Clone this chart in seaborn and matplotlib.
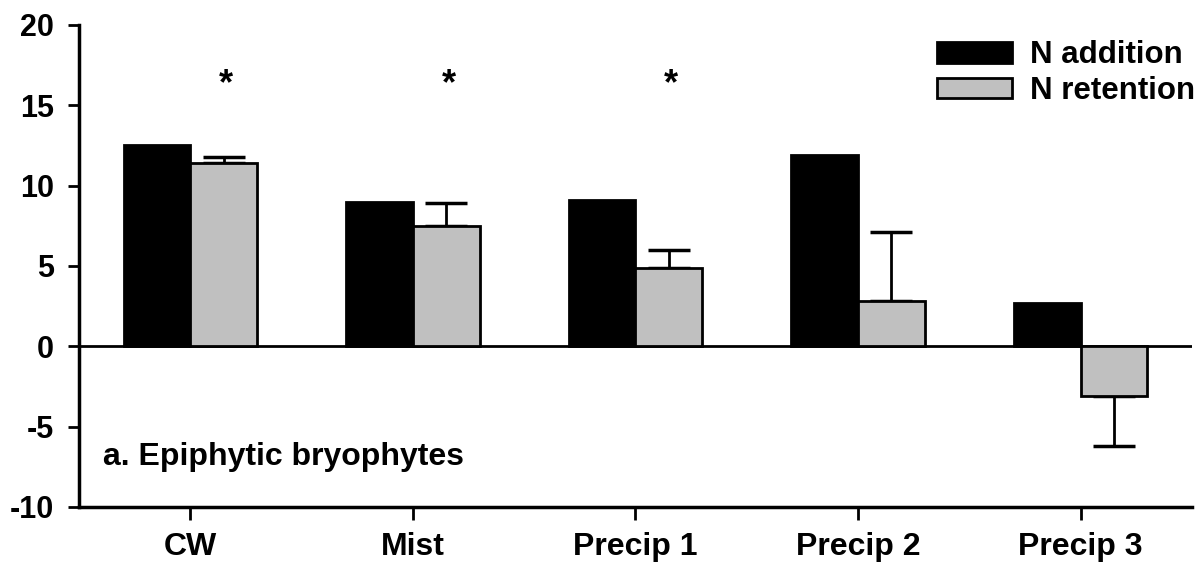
import pandas as pd
import numpy as np
import matplotlib
matplotlib.use('Agg')
import matplotlib.pyplot as plt
import seaborn as sns

# values
sites = ['CW', 'Mist', 'Precip 1', 'Precip 2', 'Precip 3']
n_addition = [12.5, 9.0, 9.1, 11.9, 2.7]
n_retention = [11.4, 7.5, 4.9, 2.8, -3.1]
retention_err = [0.4, 1.4, 1.1, 4.3, 3.1]
signif = [True, True, True, False, False]

df = pd.DataFrame({
    'site': sites * 2,
    'value': n_addition + n_retention,
    'type': ['N addition'] * 5 + ['N retention'] * 5,
})

sns.set_style('ticks')
plt.rcParams['font.family'] = ['Liberation Sans', 'DejaVu Sans']
plt.rcParams['font.weight'] = 'bold'
plt.rcParams['axes.unicode_minus'] = False
for k in ['text.color', 'axes.labelcolor', 'xtick.color', 'ytick.color', 'axes.edgecolor']:
    plt.rcParams[k] = 'black'

fig = plt.figure(figsize=(12.04, 5.65), dpi=100)
ax = fig.add_axes([0.0656, 0.1027, 0.9244, 0.8531])

ax.axhline(0, color='black', lw=2, zorder=1)
sns.barplot(data=df, x='site', y='value', hue='type', palette=['black', '#c0c0c0'],
            width=0.6, edgecolor='black', linewidth=2, ax=ax, zorder=2)

# error bars on the retention bars (one-sided, away from zero)
grey = ax.containers[1]
xs = [p.get_x() + p.get_width() / 2 for p in grey]
lower = [e if v < 0 else 0 for v, e in zip(n_retention, retention_err)]
upper = [e if v >= 0 else 0 for v, e in zip(n_retention, retention_err)]
ax.errorbar(xs, n_retention, yerr=[lower, upper], fmt='none', ecolor='black',
            elinewidth=2, capsize=15, capthick=2.5, zorder=1.5)

for x, s in zip(xs, signif):
    if s:
        ax.text(x + 0.01, 16.3, '*', ha='center', va='center', fontsize=26, fontweight='bold')

ax.text(-0.39, -6.9, 'a. Epiphytic bryophytes', fontsize=23, fontweight='bold', va='center')

ax.set_xlim(-0.5, 4.5)
ax.set_ylim(-10, 20)
ax.set_yticks([-10, -5, 0, 5, 10, 15, 20])
ax.set_xlabel('')
ax.set_ylabel('')
ax.tick_params(axis='both', labelsize=22, width=2, direction='out')
ax.tick_params(axis='x', length=9, pad=9, labelsize=23)
ax.tick_params(axis='y', length=8, pad=10)
for lab in ax.get_xticklabels() + ax.get_yticklabels():
    lab.set_fontweight('bold')
for side in ['top', 'right']:
    ax.spines[side].set_visible(False)
for side in ['left', 'bottom']:
    ax.spines[side].set_linewidth(2.5)

ax.legend(loc='upper right', bbox_to_anchor=(1.003, 0.968), frameon=False,
          borderaxespad=0, borderpad=0,
          prop={'size': 22.5, 'weight': 'bold'}, handlelength=2.4, handleheight=0.65,
          labelspacing=0.18, handletextpad=0.58)

fig.savefig('out.png', dpi=100)
